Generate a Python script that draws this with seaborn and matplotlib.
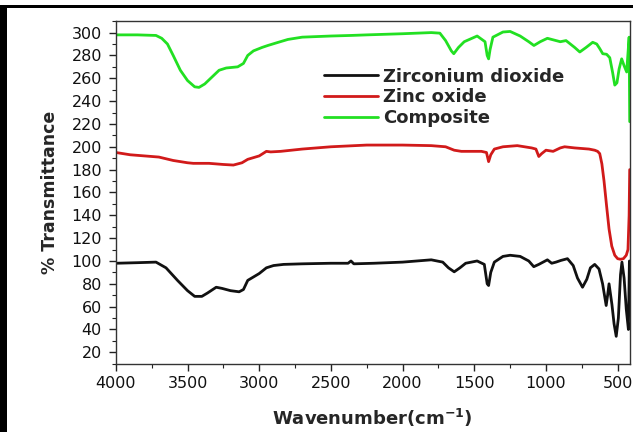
"""FTIR spectra of ZrO2, ZnO and composite."""

import matplotlib

matplotlib.use("Agg")
import matplotlib.pyplot as plt
import pandas as pd
import seaborn as sns
from matplotlib.patches import Rectangle
from matplotlib.ticker import MultipleLocator

# wavenumber (cm-1) / % transmittance
zro2_wn = [4000, 3850, 3720, 3650, 3570, 3500, 3450, 3400, 3360, 3300, 3260, 3200,
           3140, 3110, 3080, 3040, 3000, 2950, 2900, 2830, 2700, 2500, 2380, 2360,
           2340, 2200, 2000, 1800, 1720, 1680, 1640, 1600, 1560, 1480, 1430, 1410,
           1400, 1385, 1360, 1300, 1250, 1180, 1120, 1085, 1050, 1020, 990, 960,
           930, 895, 850, 810, 780, 745, 715, 690, 660, 630, 605, 580, 570, 560,
           540, 525, 510, 495, 480, 470, 455, 440, 425, 418]
zro2_t = [98, 98.5, 99, 94, 83, 74, 69, 69, 72, 77, 76, 74,
          73, 75, 83, 86, 89, 94, 96, 97, 97.5, 98, 98, 100,
          97.5, 98, 99, 101, 99, 94, 90.5, 94, 98, 100, 97, 80,
          78.5, 90, 99, 104, 105, 104, 100, 95, 97, 99, 101, 98,
          99, 100.5, 102, 96, 85, 77, 84, 94, 97, 93, 80, 61, 70, 80,
          62, 45, 34, 50, 88, 99, 85, 58, 40, 100]

zno_wn = [4000, 3900, 3800, 3700, 3600, 3500, 3460, 3350, 3250, 3180, 3120, 3080,
          3000, 2950, 2920, 2850, 2700, 2500, 2250, 2000, 1800, 1700, 1640, 1590,
          1450, 1415, 1400, 1385, 1360, 1300, 1200, 1100, 1070, 1050, 1030, 1000,
          950, 900, 870, 800, 700, 660, 640, 625, 610, 595, 577, 560, 541, 520,
          500, 480, 460, 440, 428, 420, 416]
zno_t = [195, 193, 192, 191, 188, 186, 185.5, 185.5, 184.5, 184, 186, 189,
         192, 196, 195.5, 196, 198, 200, 201.5, 201.5, 201, 200, 197, 196,
         196, 195, 187, 193, 198, 200, 201, 199, 198, 191.5, 194, 197,
         196, 199, 200, 199, 198, 197, 196, 194, 185, 170, 148, 128, 113, 105,
         102, 101.5, 102, 105, 110, 140, 180]

comp_wn = [4000, 3850, 3720, 3680, 3640, 3600, 3550, 3500, 3450, 3420, 3380, 3330,
           3280, 3230, 3150, 3110, 3080, 3040, 2980, 2940, 2880, 2800, 2700, 2500,
           2360, 2250, 2000, 1800, 1740, 1700, 1660, 1643, 1610, 1570, 1480, 1425,
           1410, 1400, 1390, 1370, 1300, 1250, 1180, 1120, 1084, 1040, 990, 960,
           900, 860, 800, 764, 720, 674, 646, 625, 604, 577, 555, 535, 520, 505,
           490, 472, 455, 437, 420, 416]
comp_t = [298, 298, 297.5, 295, 290, 280, 267, 258, 252.5, 252, 255, 261,
          267, 269, 270, 273, 280, 284, 287, 288.7, 291, 294, 296, 297,
          297.5, 298, 299, 300, 299.5, 293, 284, 281.5, 287, 292, 297, 292,
          280, 277, 285, 296, 300.5, 301, 297, 292, 288.7, 292, 295, 294,
          292, 293, 287, 283, 287, 291.5, 290, 286, 281.5, 281, 278, 265, 254, 256,
          268, 277, 271, 265.5, 296, 222]

series = [
    ("Zirconium dioxide", zro2_wn, zro2_t, "#111111"),
    ("Zinc oxide", zno_wn, zno_t, "#d11a1a"),
    ("Composite", comp_wn, comp_t, "#22e022"),
]

sns.set_style("ticks")
plt.rcParams["font.family"] = ["DejaVu Sans"]

fig = plt.figure(figsize=(6.33, 4.32), dpi=100)
ax = fig.add_axes([0.183, 0.158, 0.812, 0.793])

for name, wn, t, color in series:
    frame = pd.DataFrame({"wavenumber": wn, "transmittance": t})
    sns.lineplot(
        data=frame,
        x="wavenumber",
        y="transmittance",
        sort=False,
        estimator=None,
        color=color,
        lw=2.0,
        label=name,
        ax=ax,
    )

ax.set_xlim(4000, 415)
ax.set_ylim(10, 310)
ax.xaxis.set_major_locator(MultipleLocator(500))
ax.xaxis.set_minor_locator(MultipleLocator(250))
ax.yaxis.set_major_locator(MultipleLocator(20))
ax.yaxis.set_minor_locator(MultipleLocator(10))
ax.set_yticks(range(20, 301, 20))
ax.tick_params(which="major", direction="out", length=5, width=1.0,
               labelsize=11.5, colors="#222222", labelcolor="#111111")
ax.tick_params(axis="y", which="major", pad=5)
ax.tick_params(axis="x", which="major", pad=4)
ax.tick_params(which="minor", direction="out", length=3, width=0.8, colors="#222222")
for side in ["top", "right"]:
    ax.spines[side].set_visible(True)
for spine in ax.spines.values():
    spine.set_color("#333333")
    spine.set_linewidth(1.0)

ax.set_xlabel("Wavenumber(cm$^{\\mathbf{-1}}$)", fontsize=13, fontweight="bold",
              labelpad=11)
ax.set_ylabel("% Transmittance", fontsize=12.5, fontweight="bold", labelpad=9)

ax.legend(
    loc="upper left",
    bbox_to_anchor=(0.39, 0.885),
    frameon=False,
    prop={"size": 13, "weight": "bold"},
    handlelength=3.0,
    handletextpad=0.3,
    labelspacing=0.15,
    borderaxespad=0,
)

# black frame on the left and top of the picture
fig.add_artist(Rectangle((0, 1 - 7.5 / 432), 1, 2.5 / 432,
                         transform=fig.transFigure, color="black", lw=0))
fig.add_artist(Rectangle((0, 0), 7 / 633, 1 - 5 / 432,
                         transform=fig.transFigure, color="black", lw=0))

fig.savefig("out.png", dpi=100)
